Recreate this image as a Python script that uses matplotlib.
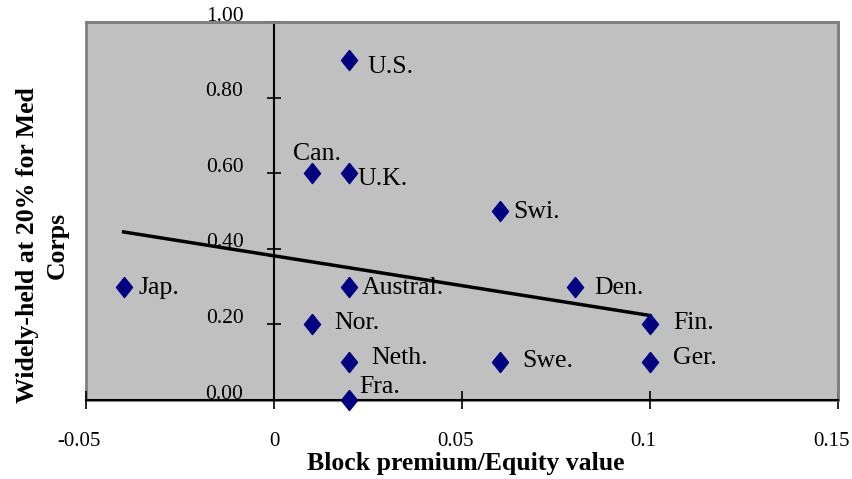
import matplotlib
matplotlib.use('Agg')
import matplotlib.pyplot as plt
import matplotlib.transforms as mtransforms
from matplotlib.patches import Rectangle
import numpy as np

# block premium vs. share widely held (medium corps)
countries = ['U.S.', 'Can.', 'U.K.', 'Swi.', 'Jap.', 'Austral.', 'Den.',
             'Nor.', 'Fin.', 'Neth.', 'Swe.', 'Ger.', 'Fra.']
block_premium = [0.02, 0.01, 0.02, 0.06, -0.04, 0.02, 0.08,
                 0.01, 0.10, 0.02, 0.06, 0.10, 0.02]
widely_held = [0.90, 0.60, 0.60, 0.50, 0.30, 0.30, 0.30,
               0.20, 0.20, 0.10, 0.10, 0.10, 0.00]

x_ticks = [-0.05, 0, 0.05, 0.1, 0.15]
x_ticklabels = ['-0.05', '0', '0.05', '0.1', '0.15']
y_ticks = [0.0, 0.2, 0.4, 0.6, 0.8, 1.0]

# label offsets in points (dx, dy, ha)
label_offsets = {
    'U.S.': (13, -5, 'left'), 'Can.': (4, 14, 'center'), 'U.K.': (6, -4, 'left'),
    'Swi.': (10, -1, 'left'), 'Jap.': (11, -1, 'left'), 'Austral.': (9, -1, 'left'),
    'Den.': (14, -1, 'left'), 'Nor.': (16, 1, 'left'), 'Fin.': (16.5, 1, 'left'),
    'Neth.': (16, 3, 'left'), 'Swe.': (16, 1, 'left'), 'Ger.': (16.5, 3, 'left'),
    'Fra.': (7, 9, 'left'),
}

plt.rcParams['font.family'] = ['Liberation Serif', 'DejaVu Serif']

fig = plt.figure(figsize=(8.52, 4.79), dpi=100)
ax = fig.add_axes([0.101, 0.165, 0.8826, 0.789])
ax.set_facecolor('#C0C0C0')
ax.set_xlim(-0.05, 0.15)
ax.set_ylim(0, 1.0)

for side in ['top', 'right']:
    ax.spines[side].set_color('#808080')
    ax.spines[side].set_linewidth(2)
ax.spines['bottom'].set_color('black')
ax.spines['bottom'].set_linewidth(1.5)
ax.spines['left'].set_position(('data', 0))
ax.spines['left'].set_color('black')
ax.spines['left'].set_linewidth(1.5)
ax.add_patch(Rectangle((0, 0), 1, 1, transform=ax.transAxes, fill=False,
                       edgecolor='#808080', linewidth=2, zorder=0.5, clip_on=False))

ax.set_xticks(x_ticks)
ax.set_xticklabels(x_ticklabels)
ax.set_yticks(y_ticks)
ax.set_yticklabels([f'{v:.2f}' for v in y_ticks])
ax.tick_params(axis='x', direction='inout', length=13.5, width=1.2, pad=16, labelsize=15)
ax.tick_params(axis='y', direction='inout', length=10, width=1.2, pad=17, labelsize=15.5)

up = mtransforms.ScaledTranslation(0, 6 / 72, fig.dpi_scale_trans)
for lbl in ax.get_yticklabels():
    lbl.set_transform(lbl.get_transform() + up)
left = mtransforms.ScaledTranslation(-5 / 72, 0, fig.dpi_scale_trans)
for lbl in ax.get_xticklabels():
    if lbl.get_text() != '0':
        lbl.set_transform(lbl.get_transform() + left)

# trend line
coef = np.polyfit(block_premium, widely_held, 1)
xs = np.array([min(block_premium), max(block_premium)])
ax.plot(xs, np.polyval(coef, xs), color='black', linewidth=2.5, zorder=3)

diamond = [(0, 1), (0.8, 0), (0, -1), (-0.8, 0), (0, 1)]
ax.plot(block_premium, widely_held, linestyle='none', marker=diamond,
        markersize=14.5, color='#000080', zorder=4, clip_on=False)

for name, x, y in zip(countries, block_premium, widely_held):
    dx, dy, ha = label_offsets[name]
    ax.annotate(name, (x, y), xytext=(dx, dy), textcoords='offset points',
                ha=ha, va='center', fontsize=18.5, zorder=5)

fig.text(0.547, 0.033, 'Block premium/Equity value', ha='center', va='center',
         fontsize=18.5, fontweight='bold')
fig.text(0.05, 0.488, 'Widely-held at 20% for Med\nCorps', ha='center', va='center',
         rotation=90, fontsize=18.5, fontweight='bold', linespacing=1.4)

fig.savefig('out.png', dpi=100)
